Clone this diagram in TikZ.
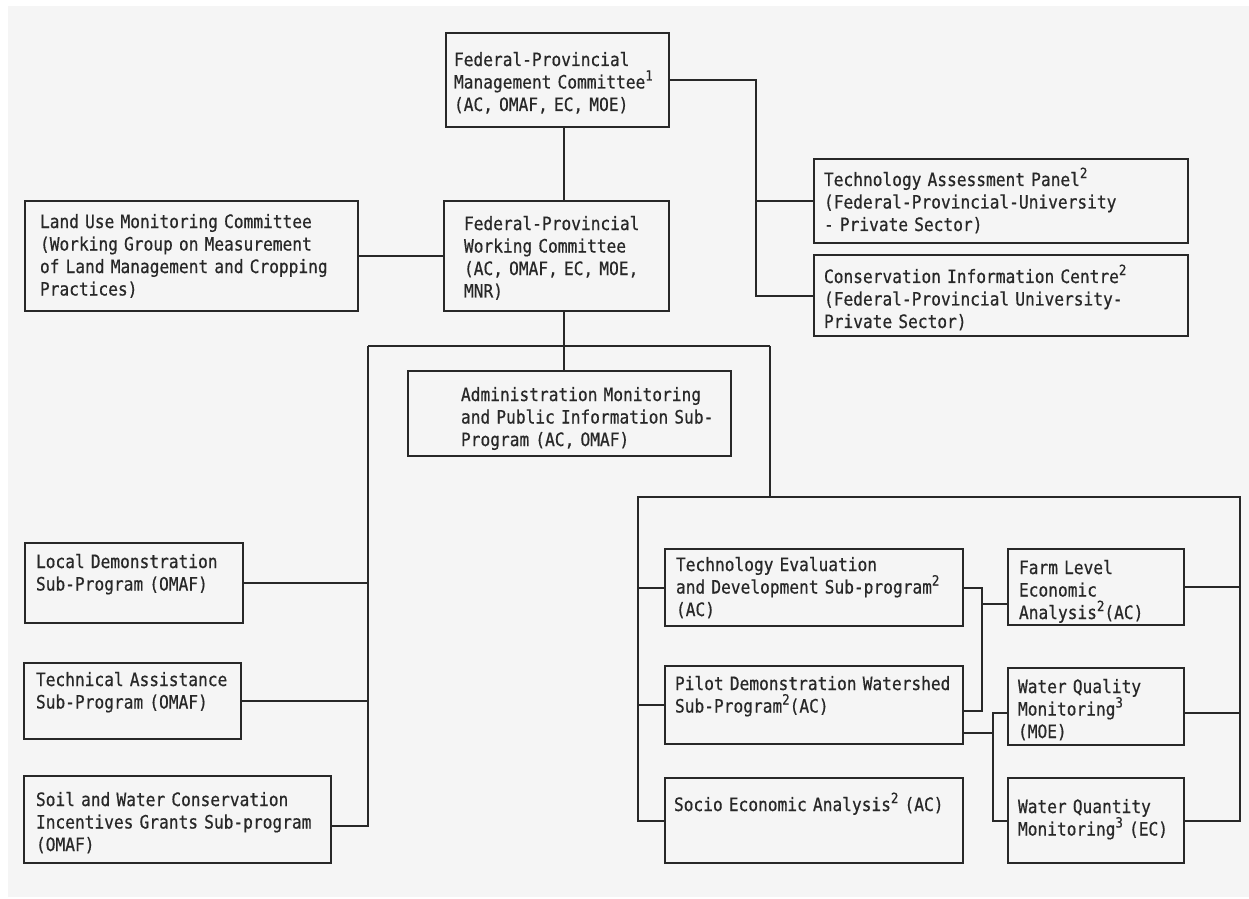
\documentclass[tikz,border=0pt]{standalone}
\usepackage{fontspec}
\usepackage{tikz}
\usetikzlibrary{calc}

\newfontfamily\typefont[FakeStretch=0.88,FakeBold=0.6]{DejaVu Sans Mono}
\newcommand{\boxfont}{\typefont\fontsize{9.2}{11.25}\selectfont}
\newcommand{\fnote}[1]{\smash{\raisebox{4pt}{\fontsize{7}{7}\selectfont #1}}}
\definecolor{ink}{RGB}{40,40,40}
\definecolor{paper}{RGB}{245,245,245}

\begin{document}
\begin{tikzpicture}[x=0.5pt,y=-0.5pt,
	box/.style={draw=ink, line width=1pt, anchor=north west, inner sep=0pt, align=left, font=\boxfont, text=ink},
	inset/.style={execute at begin node={\leftskip=#1\relax}},
	wire/.style={draw=ink, line width=1pt}]

		\useasboundingbox (0,0) rectangle (1249,899);
		\fill[paper] (8,6) rectangle (1249,897);

		\node[box, inset=4pt, text width=111.5pt, text height=16.5pt, text depth=30.5pt] (mgmt) at (445,32) {Federal-Provincial\\Management Committee\fnote{1}\\(AC, OMAF, EC, MOE)};
		\node[box, inset=10pt, text width=112.5pt, text height=14.5pt, text depth=40.5pt] (working) at (443,200) {Federal-Provincial\\Working Committee\\(AC, OMAF, EC, MOE,\\MNR)};
		\node[box, inset=7.5pt, text width=166.5pt, text height=13.5pt, text depth=41.5pt] (landuse) at (24,200) {Land Use Monitoring Committee\\(Working Group on Measurement\\of Land Management and Cropping\\Practices)};
		\node[box, inset=5pt, text width=187pt, text height=13.5pt, text depth=28.5pt] (tap) at (813,158) {Technology Assessment Panel\fnote{2}\\(Federal-Provincial-University\\- Private Sector)};
		\node[box, inset=5pt, text width=187pt, text height=14pt, text depth=26.5pt] (cic) at (813,254) {Conservation Information Centre\fnote{2}\\(Federal-Provincial University-\\Private Sector)};
		\node[box, inset=26.5pt, text width=161.5pt, text height=15pt, text depth=27.5pt] (admin) at (407,370) {Administration Monitoring\\and Public Information Sub-\\Program (AC, OMAF)};

		\node[box, inset=5.5pt, text width=109pt, text height=12.5pt, text depth=27.5pt] (local) at (24,542) {Local Demonstration\\Sub-Program (OMAF)};
		\node[box, inset=6pt, text width=108.5pt, text height=11.5pt, text depth=26.5pt] (technical) at (23,662) {Technical Assistance\\Sub-Program (OMAF)};
		\node[box, inset=6pt, text width=153.5pt, text height=15pt, text depth=28.5pt] (soil) at (23,775) {Soil and Water Conservation\\Incentives Grants Sub-program\\(OMAF)};

		\node[box, inset=5.5pt, text width=149pt, text height=11pt, text depth=27.5pt] (techeval) at (664,548) {Technology Evaluation\\and Development Sub-program\fnote{2}\\(AC)};
		\node[box, inset=5pt, text width=149pt, text height=12pt, text depth=27pt] (pilot) at (664,665) {Pilot Demonstration Watershed\\Sub-Program\fnote{2}(AC)};
		\node[box, inset=4.5pt, text width=149pt, text height=16.5pt, text depth=26pt] (socio) at (664,777) {Socio Economic Analysis\fnote{2} (AC)};
		\node[box, inset=5.5pt, text width=88pt, text height=12.5pt, text depth=25.5pt] (farm) at (1007,548) {Farm Level\\Economic\\Analysis\fnote{2}(AC)};
		\node[box, inset=5pt, text width=88pt, text height=12.5pt, text depth=26pt] (wq) at (1007,667) {Water Quality\\Monitoring\fnote{3}\\(MOE)};
		\node[box, inset=5pt, text width=88pt, text height=17.5pt, text depth=25pt] (wquant) at (1007,777) {Water Quantity\\Monitoring\fnote{3} (EC)};

		\coordinate (mgmtbot) at ([xshift=3pt]mgmt.south);
		\coordinate (workbot) at ([xshift=3.5pt]working.south);
		\coordinate (panelbus) at ($(cic.west)+(-57,0)$);
		\coordinate (leftbus) at (368,346);
		\coordinate (rightbus) at (770,346);
		\coordinate (frameleft) at (638,497);
		\coordinate (frameright) at (1240,497);

		\draw[wire] (mgmtbot) to (mgmtbot |- working.north);
		\draw[wire] (mgmt.east) -| (panelbus) to (cic.west);
		\draw[wire] (tap.west) to (tap.west -| panelbus);
		\draw[wire] (landuse) to (working);
		\draw[wire] (workbot) to (workbot |- admin.north);

		\draw[wire] (leftbus) to (rightbus);
		\draw[wire] (leftbus) |- ([yshift=-3pt]soil.east);
		\draw[wire] (local.east) to (local.east -| leftbus);
		\draw[wire] (technical.east) to (technical.east -| leftbus);
		\draw[wire] (rightbus) to (rightbus |- frameleft);

		\draw[wire] (socio.west) -| (frameleft) to (frameright) |- (wquant.east);
		\draw[wire] (techeval.west) to (techeval.west -| frameleft);
		\draw[wire] (pilot.west) to (pilot.west -| frameleft);
		\draw[wire] (farm.east) to (farm.east -| frameright);
		\coordinate (wqright) at ([yshift=-3pt]wq.east);
		\draw[wire] (wqright) to (wqright -| frameright);

		\coordinate (evalbus) at ($(techeval.east)+(18,0)$);
		\coordinate (pilotup) at ([yshift=-3pt]pilot.east);
		\draw[wire] (techeval.east) -- (evalbus) |- (pilotup);
		\coordinate (farmin) at ([yshift=-8.5pt]farm.west);
		\draw[wire] (farmin) to (farmin -| evalbus);
		\coordinate (wqin) at ([yshift=-3pt]wq.west);
		\coordinate (waterbus) at ($(wqin)+(-14,0)$);
		\draw[wire] (wqin) -- (waterbus) |- (wquant.west);
		\coordinate (pilotdown) at ([yshift=-14pt]pilot.east);
		\draw[wire] (pilotdown) to (pilotdown -| waterbus);

\end{tikzpicture}
\end{document}
